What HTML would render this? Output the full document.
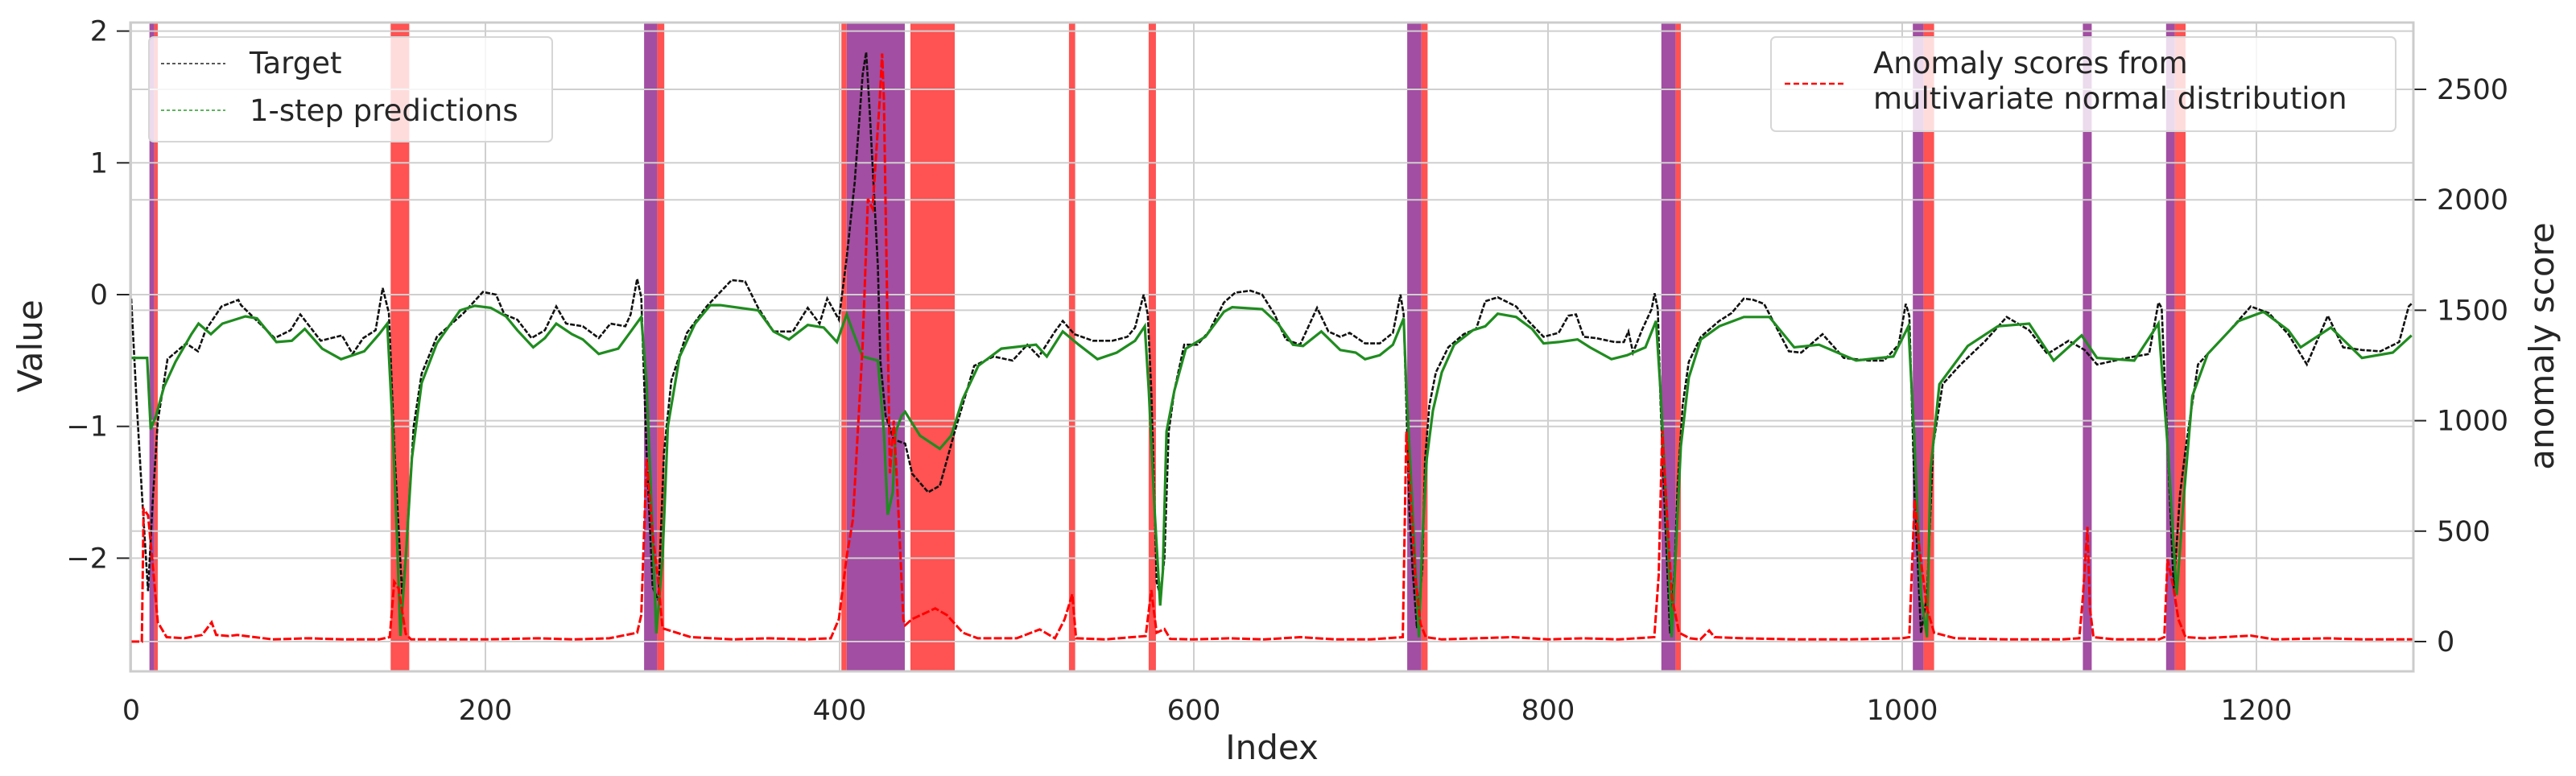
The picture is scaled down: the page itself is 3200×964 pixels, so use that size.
<!DOCTYPE html>
<html><head><meta charset="utf-8"><style>
html,body{margin:0;padding:0;background:#fff}
svg{display:block;font-family:"DejaVu Sans","Liberation Sans",sans-serif}
</style></head><body>
<svg id="chart" width="3200" height="964" viewBox="0 0 3200 964" xmlns="http://www.w3.org/2000/svg">
<rect x="0" y="0" width="3200" height="964" fill="#fff"/>
<g id="spans"></g>
<g id="grid"></g>
<g id="series"></g>
<g id="axes"></g>
<g id="legend-left">
  <rect x="185" y="46" width="501" height="130" rx="6" fill="rgba(255,255,255,0.8)" stroke="#d6d6d6" stroke-width="2"/>
  <line x1="200" y1="79" x2="280" y2="79" stroke="#222" stroke-width="1.5" stroke-dasharray="4,3"/>
  <text x="310" y="91" font-size="37" fill="#262626">Target</text>
  <line x1="200" y1="137" x2="280" y2="137" stroke="#2a9a2a" stroke-width="1.5" stroke-dasharray="4,3"/>
  <text x="310" y="150" font-size="37" fill="#262626">1-step predictions</text>
</g>
<g id="legend-right">
  <rect x="2200" y="46" width="776" height="117" rx="6" fill="rgba(255,255,255,0.8)" stroke="#d6d6d6" stroke-width="2"/>
  <line x1="2217" y1="104" x2="2291" y2="104" stroke="#f00" stroke-width="2.5" stroke-dasharray="7,4"/>
  <text x="2327" y="91" font-size="37" fill="#262626">Anomaly scores from</text>
  <text x="2327" y="135" font-size="37" fill="#262626">multivariate normal distribution</text>
</g>
</svg>
<script>
const xTicks=[0,200,400,600,800,1000,1200];
const yTicks=[2,1,0,-1,-2];
const yTickLabels=["2","1","0","\u22121","\u22122"];
const y2Ticks=[0,500,1000,1500,2000,2500];
const purpleStart=[10.3,289.6,404,720.5,864,1006,1102,1149];
const purpleEnd=[13.1,297,436.8,728.5,872,1012,1107,1154];
const redStart=[13.1,146.5,297,401,440,529.5,574.5,728.5,872,1012,1154];
const redEnd=[15,157,301,404,465,533,578.6,732,875,1018,1160];
const targetIdx=[0,3,6,9.5,12,15,20.5,31,37.7,42,51,60.5,62,81,90,95.5,107,119,125,131,138,142,145.5,148.7,153,155,159.5,164,172.6,187.7,198.6,206,210.7,218,226,233.6,240,245.6,255,264,270.6,279,282,285.7,288,291,294.4,297.6,300.8,305,313.8,324.9,339,346.6,354,362.7,373.6,382,388.7,393,399.6,404,408.5,413,415,417,421.6,423,426,430.6,437,441,450,456.6,465,476,486.9,497.7,506,512.5,521.6,526,532.5,543,554,562.5,566.8,571.7,574,576,578,579,581,583.4,585.8,589,594.6,602,608.6,617,623.4,632,638.6,645.6,652,660,669.6,676,682.7,688,696.7,705,712.4,716.7,718.5,720,721.8,723.5,726,729,730.6,733,736.7,743.7,752.4,759.4,764.6,771.6,782,787.5,797.5,806,811.5,815.8,820.2,827,837.6,842.8,845.4,848,853,858.5,860.2,862,863.6,866,868.9,871.5,873.2,876,879.5,886.3,896.7,903.7,910.6,915.9,922,936,943,955,967,981,989.7,998,1002,1004,1007,1010.6,1014,1017.5,1022.8,1033,1047,1059,1071.7,1082,1094,1103,1110,1127,1139.4,1144.7,1146.5,1149.8,1153.3,1156.8,1160.3,1167,1183,1196.8,1207,1218,1228.5,1240.3,1249,1259.6,1270,1280.6,1286,1289];
const targetVal=[-0.03,-0.8,-1.5,-2.25,-1.6,-0.96,-0.49,-0.37,-0.43,-0.27,-0.09,-0.04,-0.08,-0.33,-0.27,-0.15,-0.35,-0.31,-0.45,-0.33,-0.27,0.05,-0.14,-1.2,-2.28,-2.0,-1.0,-0.6,-0.32,-0.14,0.02,0.0,-0.15,-0.19,-0.33,-0.27,-0.09,-0.22,-0.24,-0.33,-0.22,-0.24,-0.15,0.12,-0.02,-1.2,-2.22,-2.32,-1.2,-0.65,-0.29,-0.09,0.11,0.1,-0.1,-0.28,-0.28,-0.1,-0.22,-0.03,-0.19,0.28,0.85,1.67,1.84,1.39,0.22,-0.5,-0.92,-1.1,-1.13,-1.36,-1.5,-1.45,-1.04,-0.54,-0.47,-0.5,-0.38,-0.47,-0.28,-0.2,-0.3,-0.35,-0.35,-0.32,-0.25,0.0,-0.15,-0.73,-1.67,-2.18,-2.28,-2.0,-1.04,-0.73,-0.38,-0.38,-0.28,-0.06,0.015,0.03,0.0,-0.15,-0.34,-0.38,-0.1,-0.28,-0.32,-0.29,-0.37,-0.37,-0.29,0.0,-0.15,-0.84,-1.66,-2.08,-2.53,-2.08,-1.25,-0.84,-0.59,-0.4,-0.3,-0.26,-0.05,-0.02,-0.09,-0.18,-0.32,-0.29,-0.16,-0.15,-0.32,-0.33,-0.36,-0.36,-0.28,-0.44,-0.27,-0.11,0.01,-0.11,-0.84,-1.66,-2.57,-2.08,-1.45,-0.84,-0.51,-0.32,-0.2,-0.14,-0.03,-0.04,-0.07,-0.43,-0.44,-0.3,-0.48,-0.5,-0.5,-0.38,-0.07,-0.16,-1.52,-2.57,-2.28,-1.14,-0.68,-0.53,-0.35,-0.17,-0.27,-0.45,-0.35,-0.42,-0.53,-0.48,-0.45,-0.06,-0.1,-1.14,-2.23,-1.52,-1.14,-0.53,-0.3,-0.09,-0.14,-0.3,-0.53,-0.16,-0.4,-0.42,-0.43,-0.36,-0.09,-0.05];
const predIdx=[0,9,11,14,18.5,25,34,38,45,51.5,64.5,71,82,90.7,98,107.8,118.5,131.6,140,144.6,147.6,150,152,155,158.5,164,172.6,185.7,194,203,211.6,218,227,233.6,240,248.8,255,264,275,281,288,291,294.4,296.5,300,303,309.7,318.4,327,332.7,354,362.7,371.4,382,391,398.5,404,407.5,412.9,421.6,425,427.2,430,431.7,435,437,445.4,456.6,463,469.6,478.3,491.3,510.9,517,526,535,545.6,556.5,566.8,572.3,574.6,578,581,582.5,584.6,589,595.5,606.5,617,621.7,638.6,647.5,656,661.7,672,682.7,691.4,696.7,705,712.4,718.5,720,722.8,725.5,727.1,729,731.5,735,740,747,757.6,764.6,771.6,782,791,797.5,806,816.7,823.7,835.8,844.6,855,861,863.6,867,869.8,872.4,875,879.5,886.3,896.7,910.6,925,939,953,974,995,1003.5,1007,1010.6,1014,1016,1021,1037,1054,1071.7,1085.5,1101.3,1110,1131,1144.7,1149.8,1155,1158.6,1163.8,1172.5,1190,1204,1218,1225,1242,1259.6,1277,1287.6];
const predVal=[-0.48,-0.48,-1.02,-0.92,-0.7,-0.51,-0.3,-0.22,-0.3,-0.22,-0.165,-0.18,-0.36,-0.35,-0.26,-0.41,-0.49,-0.43,-0.3,-0.22,-1.0,-1.82,-2.59,-2.0,-1.24,-0.67,-0.37,-0.12,-0.085,-0.1,-0.165,-0.27,-0.4,-0.33,-0.22,-0.3,-0.34,-0.45,-0.41,-0.3,-0.17,-0.67,-1.82,-2.57,-2.0,-1.0,-0.47,-0.22,-0.08,-0.08,-0.12,-0.28,-0.34,-0.23,-0.25,-0.36,-0.15,-0.28,-0.47,-0.5,-1.04,-1.67,-1.5,-1.04,-0.92,-0.89,-1.07,-1.17,-1.07,-0.79,-0.54,-0.41,-0.38,-0.47,-0.28,-0.38,-0.49,-0.44,-0.35,-0.24,-0.73,-1.67,-2.36,-2.1,-1.04,-0.73,-0.41,-0.32,-0.13,-0.095,-0.11,-0.22,-0.38,-0.39,-0.28,-0.42,-0.44,-0.49,-0.46,-0.38,-0.18,-0.71,-1.45,-2.18,-2.6,-1.88,-1.25,-0.88,-0.59,-0.38,-0.27,-0.24,-0.145,-0.17,-0.26,-0.37,-0.36,-0.34,-0.4,-0.49,-0.46,-0.4,-0.2,-0.74,-1.66,-2.6,-1.88,-1.15,-0.63,-0.34,-0.24,-0.17,-0.17,-0.4,-0.38,-0.5,-0.47,-0.24,-1.14,-2.28,-2.6,-1.33,-0.68,-0.39,-0.24,-0.22,-0.5,-0.31,-0.48,-0.5,-0.22,-1.14,-2.28,-1.6,-0.77,-0.45,-0.2,-0.13,-0.27,-0.4,-0.25,-0.48,-0.44,-0.31];
const scoreIdx=[0,6,7,9.5,12,15,20,30,40,45.4,48,55,60,80,100,120,140,146,148.5,151,155,158,170,200,230,250,270,285.7,288,291,294.4,297.6,300,316,340,360,380,395,399.6,404,407.5,412.9,416,418.6,422.7,424,425,428.4,430.6,432.7,436,437,441,454,460.6,469.6,478,500,513,521.6,527,531.4,533.5,550,572.8,576,579,583.4,586.7,600,620,640,660,680,700,718,720,722,725,728,731,740,760,780,800,820,840,860,862.5,864.5,867,870,874,880,886,891,894,910,940,970,1000,1004,1007,1010,1014,1018,1030,1060,1090,1100,1102,1104.6,1106,1108,1120,1145,1148,1149.8,1153,1156,1160,1170,1197,1210,1240,1260,1289];
const scoreVal=[0,0,600,572,363,87,20,15,30,87,30,25,30,10,15,10,10,20,270,240,35,10,10,10,15,10,15,40,120,827,488,270,60,20,10,15,10,15,102,384,553,1327,2004,1960,2456,2662,2456,762,1000,680,100,74,102,150,120,40,15,15,55,15,100,215,15,10,25,233,40,57,12,10,15,10,20,10,10,20,950,700,300,80,20,10,15,20,10,15,10,20,300,956,600,200,40,15,10,50,20,15,10,10,15,20,642,400,150,40,15,10,10,15,200,519,150,20,10,10,20,373,250,100,20,15,27,10,15,10,10];
const NS='http://www.w3.org/2000/svg';
const L=162,R=2998,T=28,B=834;
function xs(i){return L+1+i*2.2;}
function ys(v){return 366-v*163.7;}
function ys2(s){return 797-s*0.2744;}
function mk(tag,attrs,parent){const e=document.createElementNS(NS,tag);for(const k in attrs)e.setAttribute(k,attrs[k]);parent.appendChild(e);return e;}
const gS=document.getElementById('spans'),gG=document.getElementById('grid'),gSer=document.getElementById('series'),gA=document.getElementById('axes');
for(let k=0;k<purpleStart.length;k++){
  const r=mk('rect',{x:xs(purpleStart[k]),y:T,width:xs(purpleEnd[k])-xs(purpleStart[k]),height:B-T,fill:'#a24ea2'},gS);
  
  
}
for(let k=0;k<redStart.length;k++){
  const r=mk('rect',{x:xs(redStart[k]),y:T,width:xs(redEnd[k])-xs(redStart[k]),height:B-T,fill:'#ff5252'},gS);
  
  
}
xTicks.forEach(t=>{
  const l=mk('line',{x1:xs(t),x2:xs(t),y1:T,y2:B,stroke:'#cfcfcf','stroke-width':2},gG);
  
  
  const tx=mk('text',{x:xs(t),y:894,'font-size':35,fill:'#262626','text-anchor':'middle'},gA);
  tx.textContent=String(t);
  
  
});
yTicks.forEach((t,k)=>{
  const l=mk('line',{x1:L,x2:R,y1:ys(t),y2:ys(t),stroke:'#cfcfcf','stroke-width':2},gG);
  
  
  mk('line',{x1:145,x2:161,y1:ys(t),y2:ys(t),stroke:'#262626','stroke-width':2},gA);
  const tx=mk('text',{x:134,y:ys(t)+12,'font-size':35,fill:'#262626','text-anchor':'end'},gA);
  tx.textContent=yTickLabels[k];
  
  
});
y2Ticks.forEach(t=>{
  const l=mk('line',{x1:L,x2:R,y1:ys2(t),y2:ys2(t),stroke:'#cfcfcf','stroke-width':2},gG);
  
  
  mk('line',{x1:2999,x2:3014,y1:ys2(t),y2:ys2(t),stroke:'#262626','stroke-width':2},gA);
  const tx=mk('text',{x:3027,y:ys2(t)+12,'font-size':35,fill:'#262626'},gA);
  tx.textContent=String(t);
  
  
});
function pts(ix,vals,f){return ix.map((i,k)=>xs(i).toFixed(1)+','+f(vals[k]).toFixed(1)).join(' ');}
const target=mk('polyline',{points:pts(targetIdx,targetVal,ys),fill:'none',stroke:'#111','stroke-width':2.6,'stroke-dasharray':'6,2'},gSer);


const pred=mk('polyline',{points:pts(predIdx,predVal,ys),fill:'none',stroke:'#1f8c1f','stroke-width':3.2},gSer);


const score=mk('polyline',{points:pts(scoreIdx,scoreVal,ys2),fill:'none',stroke:'#ff0000','stroke-width':3,'stroke-dasharray':'10,3'},gSer);


const frame=mk('rect',{x:L,y:T,width:R-L,height:B-T,fill:'none',stroke:'#cccccc','stroke-width':3},gA);


const xl=mk('text',{x:1580,y:943,'font-size':42,fill:'#262626','text-anchor':'middle'},gA);
xl.textContent='Index';


const yl=mk('text',{x:0,y:0,'font-size':42,fill:'#262626','text-anchor':'middle',transform:'translate(52,430) rotate(-90)'},gA);
yl.textContent='Value';


const y2l=mk('text',{x:0,y:0,'font-size':42,fill:'#262626','text-anchor':'middle',transform:'translate(3172,430) rotate(-90)'},gA);
y2l.textContent='anomaly score';


</script>
</body></html>
